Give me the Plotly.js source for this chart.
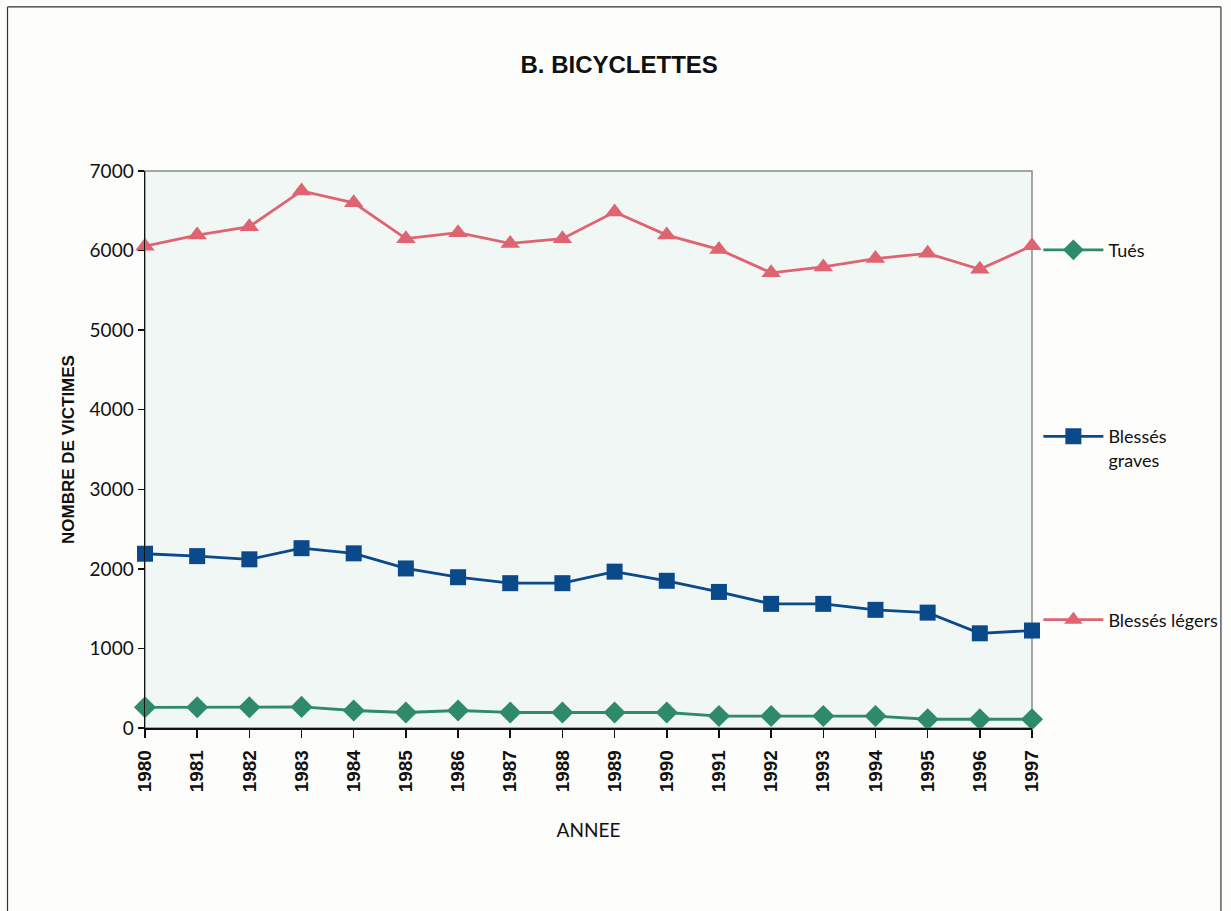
<!DOCTYPE html>
<html>
<head>
<meta charset="utf-8">
<script src="https://cdn.plot.ly/plotly-3.0.1.min.js"></script>
<style>
html,body{margin:0;padding:0;background:#fdfdfb;}
#chart{width:1231px;height:911px;}
</style>
</head>
<body>
<div id="chart"></div>
<script>
// Data
const years = [1980,1981,1982,1983,1984,1985,1986,1987,1988,1989,1990,1991,1992,1993,1994,1995,1996,1997];
const tues = [260,260,260,265,220,195,220,195,195,195,195,150,150,150,150,110,110,110];
const blessesGraves = [2190,2160,2120,2260,2195,2005,1895,1820,1820,1965,1850,1710,1560,1560,1485,1450,1190,1225];
const blessesLegers = [6055,6195,6300,6750,6600,6150,6225,6090,6150,6485,6195,6015,5720,5795,5900,5965,5765,6060];
const seriesNames = ['Tués', 'Blessés<br>graves', 'Blessés légers'];
const yTicks = [0,1000,2000,3000,4000,5000,6000,7000];

const lineFont = 'Lato, "Liberation Sans", sans-serif';

const traces = [
  {x: years, y: tues, name: seriesNames[0], type: 'scatter', mode: 'lines+markers',
   line: {color: '#2f8a6a', width: 2.8}, marker: {symbol: 'diamond', size: 17, color: '#2f8a6a'},
   legend: 'legend', cliponaxis: false},
  {x: years, y: blessesGraves, name: seriesNames[1], type: 'scatter', mode: 'lines+markers',
   line: {color: '#0b4a8a', width: 2.8}, marker: {symbol: 'square', size: 16, color: '#0b4a8a'},
   legend: 'legend2', cliponaxis: false},
  {x: years, y: blessesLegers, name: seriesNames[2], type: 'scatter', mode: 'lines+markers',
   line: {color: '#df6472', width: 2.8}, marker: {symbol: 'triangle-up', size: 17, color: '#df6472'},
   legend: 'legend3', cliponaxis: false}
];

function legendAt(yPaper, valign) {
  return {x: 1.0072, xanchor: 'left', y: yPaper, yanchor: 'middle', bgcolor: 'rgba(0,0,0,0)',
          font: {family: lineFont, size: 18, color: '#111'}, itemwidth: 60, valign: valign};
}

const layout = {
  width: 1231, height: 911,
  margin: {l: 145, r: 199, t: 171, b: 183, pad: 0, autoexpand: false},
  paper_bgcolor: '#fdfdfb',
  plot_bgcolor: '#f1f7f5',
  title: {text: 'B. BICYCLETTES', x: 0.503, xref: 'container', y: 0.929, yanchor: 'middle',
          font: {family: '"Liberation Sans", Arial, sans-serif', size: 24, color: '#111', weight: 'bold'}},
  showlegend: true,
  legend: legendAt(0.858, 'middle'),
  legend2: legendAt(0.5025, 'top'),
  legend3: legendAt(0.194, 'middle'),
  xaxis: {
    range: [1980, 1997], tickmode: 'array', tickvals: years, ticktext: years.map(String),
    tickangle: -90, ticks: 'outside', ticklen: 8, tickcolor: '#111', tickwidth: 1.5,
    ticklabelstandoff: 5,
    showline: true, linecolor: '#111', linewidth: 1.5, showgrid: false, zeroline: false,
    tickfont: {family: '"Liberation Sans", Arial, sans-serif', size: 19, color: '#111', weight: 'bold'},
    title: {text: 'ANNEE', standoff: 32, font: {family: lineFont, size: 19, color: '#111'}}
  },
  yaxis: {
    range: [0, 7000], tickmode: 'array', tickvals: yTicks, ticktext: yTicks.map(String),
    ticks: 'outside', ticklen: 6, tickcolor: '#111', tickwidth: 1.5,
    showline: true, linecolor: '#111', linewidth: 1.5, showgrid: false, zeroline: false,
    tickfont: {family: lineFont, size: 19, color: '#111'},
    title: {text: 'NOMBRE DE VICTIMES', standoff: 10,
            font: {family: '"Liberation Sans", Arial, sans-serif', size: 17, color: '#111', weight: 'bold'}}
  },
  shapes: [
    {type: 'rect', xref: 'paper', yref: 'paper', x0: 0, x1: 1, y0: 0, y1: 1,
     line: {color: '#8a8a8a', width: 1.5}, layer: 'below'},
    {type: 'line', xref: 'paper', yref: 'paper', x0: -0.155, x1: -0.155, y0: -0.33, y1: 1.2945,
     line: {color: '#333', width: 1.2}},
    {type: 'line', xref: 'paper', yref: 'paper', x0: -0.155, x1: 1.213, y0: 1.2945, y1: 1.2945,
     line: {color: '#333', width: 1.2}},
    {type: 'line', xref: 'paper', yref: 'paper', x0: 1.213, x1: 1.213, y0: -0.33, y1: 1.2945,
     line: {color: '#333', width: 1.2}}
  ]
};

Plotly.newPlot('chart', traces, layout, {displayModeBar: false, staticPlot: true});
</script>
</body>
</html>
